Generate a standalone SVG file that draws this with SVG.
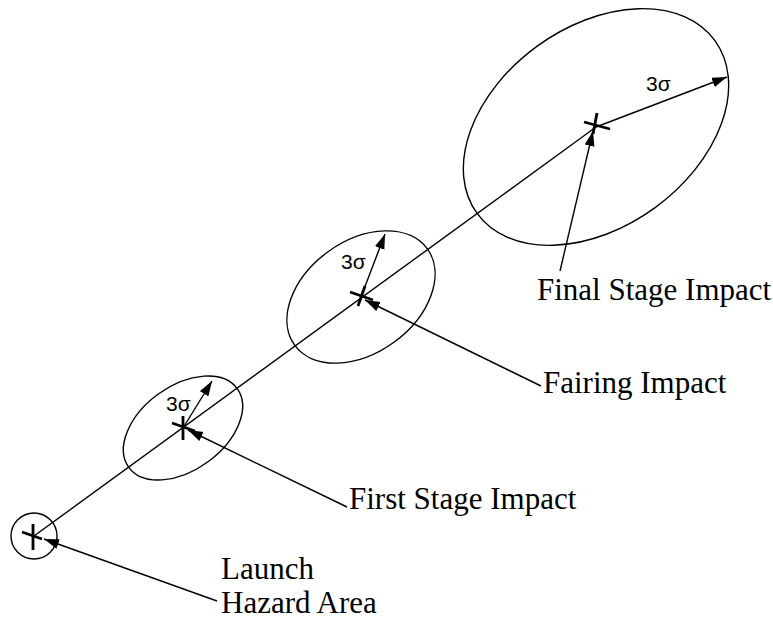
<svg xmlns="http://www.w3.org/2000/svg" width="773" height="620" viewBox="0 0 773 620">
<style>
.ln{stroke:#000;stroke-width:1.4;fill:none}
.ar{stroke:#000;stroke-width:1.4;fill:none;marker-end:url(#ah)}
.mk{stroke:#000;stroke-width:2.8;fill:none}
.lbl{font-family:"Liberation Serif","Times New Roman",serif;font-size:31px;fill:#000}
.sig{font-family:"Liberation Sans",Arial,sans-serif;font-size:21px;fill:#000}
</style>
<defs>
<marker id="ah" markerWidth="16" markerHeight="11" refX="15" refY="5" orient="auto" markerUnits="userSpaceOnUse">
<path d="M0,0 L15,5 L0,10 z" fill="#000"/>
</marker>
</defs>
<rect width="773" height="620" fill="#fff"/>
<g id="connectors">
<line class="ln" x1="34" y1="536" x2="596" y2="127"/>
<line class="ar" x1="217" y1="601" x2="44" y2="539"/>
<line class="ar" x1="347" y1="507" x2="188" y2="430"/>
<line class="ar" x1="541" y1="386" x2="365" y2="300"/>
<line class="ar" x1="560" y1="271" x2="593" y2="131"/>
<line class="ar" x1="183" y1="428" x2="212" y2="381"/>
<line class="ar" x1="361" y1="297" x2="385" y2="234"/>
<line class="ar" x1="596" y1="127" x2="727" y2="77"/>
</g>
<g id="launch">
<circle class="ln" cx="34" cy="536" r="23"/>
<line class="mk" x1="33" y1="524" x2="33" y2="550"/>
<line class="mk" x1="22" y1="532" x2="42" y2="539"/>
<text class="lbl" x="221" y="579">Launch</text>
<text class="lbl" x="221" y="613">Hazard Area</text>
</g>
<g id="first-stage">
<ellipse class="ln" cx="183" cy="428" rx="67" ry="42" transform="rotate(-36 183 428)"/>
<line class="mk" x1="183" y1="416" x2="183" y2="440"/>
<line class="mk" x1="172" y1="423" x2="195" y2="431"/>
<text class="sig" x="166" y="411">3σ</text>
<text class="lbl" x="349" y="509">First Stage Impact</text>
</g>
<g id="fairing">
<ellipse class="ln" cx="361" cy="297" rx="82" ry="56" transform="rotate(-36 361 297)"/>
<line class="mk" x1="350" y1="292" x2="373" y2="300"/>
<line class="mk" x1="365" y1="286" x2="358" y2="306"/>
<text class="sig" x="341" y="269">3σ</text>
<text class="lbl" x="543" y="393">Fairing Impact</text>
</g>
<g id="final-stage">
<ellipse class="ln" cx="596" cy="127" rx="147" ry="100" transform="rotate(-36 596 127)"/>
<line class="mk" x1="584" y1="122" x2="610" y2="129"/>
<line class="mk" x1="597" y1="113" x2="593" y2="134"/>
<text class="sig" x="646" y="91">3σ</text>
<text class="lbl" x="537" y="300">Final Stage Impact</text>
</g>
</svg>
